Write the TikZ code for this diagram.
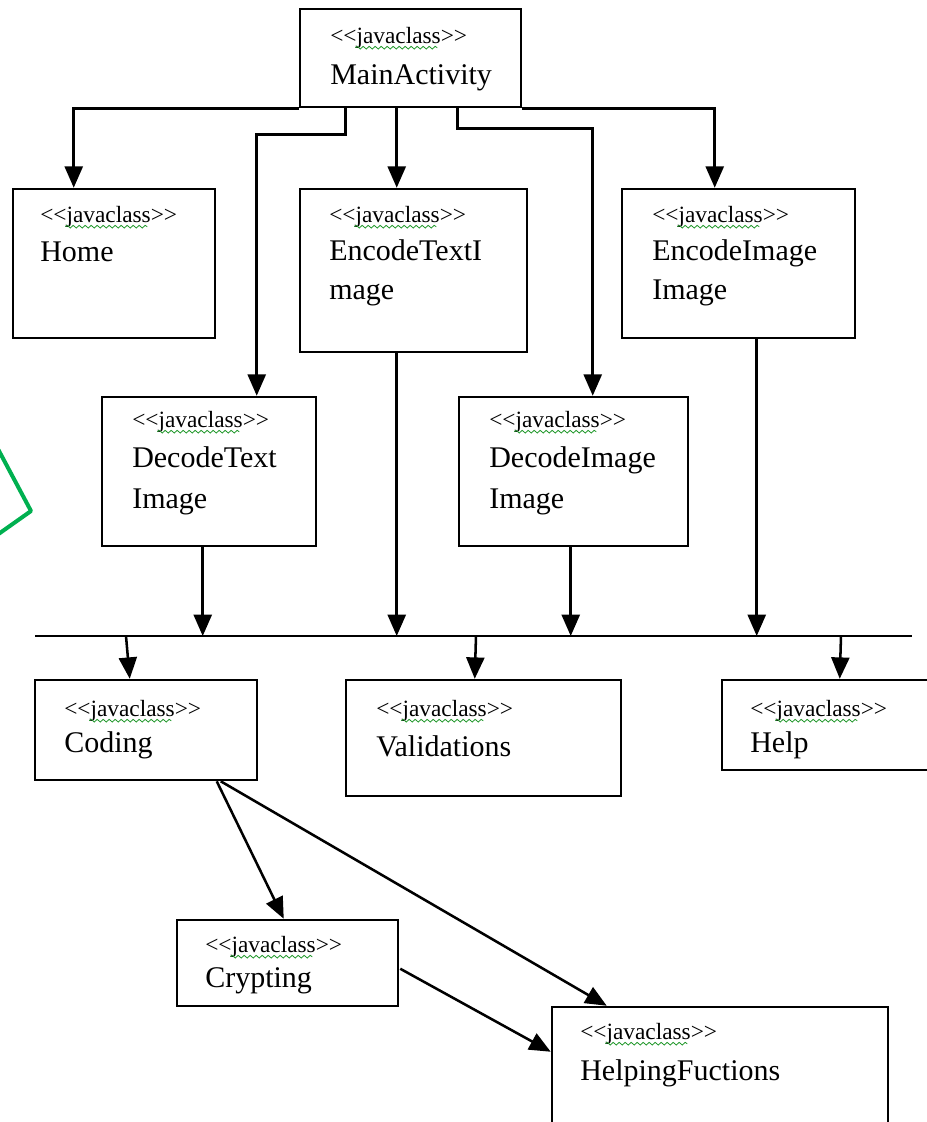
\documentclass[tikz,border=0pt]{standalone}
\usepackage{fontspec}
\setmainfont{Liberation Serif}
\usetikzlibrary{arrows.meta,fit,calc,decorations.pathmorphing}
\definecolor{spellgreen}{RGB}{30,150,40}
\definecolor{markgreen}{RGB}{0,176,80}
\newcommand\stereotxt{\hbox{<}\hbox{<}javaclass\hbox{>}\hbox{>}}
\begin{document}
\begin{tikzpicture}[x=0.75pt,y=-0.75pt,
  box/.style={draw, line width=1.9pt, inner sep=0pt},
  arr/.style={draw, line width=1.9pt, -{Triangle[length=16pt,width=13.5pt]}},
  busline/.style={draw, line width=1.9pt},
  stereo/.style={anchor=base west, inner sep=0pt, font=\fontsize{17.5}{20}\selectfont},
  cname/.style={anchor=base west, inner sep=0pt, font=\fontsize{22.5}{28}\selectfont},
  spell/.style={draw=spellgreen, line width=0.6pt, decorate, decoration={snake, amplitude=1pt, segment length=4.5pt}},
  greenmark/.style={draw=markgreen, line width=3pt, line join=round}
]
\useasboundingbox (0,0) rectangle (927,1122);
\clip (0,0) rectangle (927,1122);

% boxes
\node[box, fit={(300,9) (521,107)}] (main) {};
\node[box, fit={(13,189) (215,338)}] (home) {};
\node[box, fit={(300,189) (527,352)}] (enctext) {};
\node[box, fit={(622,189) (855,338)}] (encimg) {};
\node[box, fit={(102,397) (316,546)}] (dectext) {};
\node[box, fit={(459,397) (688,546)}] (decimg) {};
\node[box, fit={(35,680) (257,780)}] (coding) {};
\node[box, fit={(346,680) (621,796)}] (valid) {};
\node[box, fit={(722,680) (945,770)}] (help) {};
\node[box, fit={(177,920) (398,1006)}] (crypt) {};
\node[box, fit={(552,1007) (888,1135)}] (helpfn) {};

% texts
\newcommand\squig[1]{\draw[spell] ($(#1.base west)+(19pt,-3.5pt)$) -- ++(82,0);}
\node[stereo] (main-s) at (330,43) {\stereotxt};
\node[cname] (main-n) at (330,84) {MainActivity};
\node[stereo] (home-s) at (40,222) {\stereotxt};
\node[cname] (home-n) at (40,261) {Home};
\node[stereo] (enctext-s) at (329,222) {\stereotxt};
\node[cname] (enctext-n1) at (329,260) {EncodeTextI};
\node[cname] (enctext-n2) at (329,299) {mage};
\node[stereo] (encimg-s) at (652,222) {\stereotxt};
\node[cname] (encimg-n1) at (652,260) {EncodeImage};
\node[cname] (encimg-n2) at (652,299) {Image};
\node[stereo] (dectext-s) at (132,427) {\stereotxt};
\node[cname] (dectext-n1) at (132,467) {DecodeText};
\node[cname] (dectext-n2) at (132,508) {Image};
\node[stereo] (decimg-s) at (489,427) {\stereotxt};
\node[cname] (decimg-n1) at (489,467) {DecodeImage};
\node[cname] (decimg-n2) at (489,508) {Image};
\node[stereo] (coding-s) at (64,716) {\stereotxt};
\node[cname] (coding-n) at (64,752) {Coding};
\node[stereo] (valid-s) at (376,716) {\stereotxt};
\node[cname] (valid-n) at (376,756) {Validations};
\node[stereo] (help-s) at (750,716) {\stereotxt};
\node[cname] (help-n) at (750,752) {Help};
\node[stereo] (crypt-s) at (205,952) {\stereotxt};
\node[cname] (crypt-n) at (205,987) {Crypting};
\node[stereo] (helpfn-s) at (580,1039) {\stereotxt};
\node[cname] (helpfn-n) at (580,1080) {HelpingFuctions};

\foreach \n in {main,home,enctext,encimg,dectext,decimg,coding,valid,help,crypt,helpfn}{\squig{\n-s}}

% connectors from MainActivity
\draw[arr] (main.south west) -| ($(home.north west)+(62,0)$);
\draw[arr] ($(main.south west)+(47,0)$) -- ++(0,26) -| ($(dectext.north west)+(156,0)$);
\draw[arr] ($(main.south west)+(98,0)$) coordinate (m3) -- (m3 |- enctext.north);
\draw[arr] ($(main.south west)+(159,0)$) -- ++(0,20) -| ($(decimg.north west)+(135,0)$);
\draw[arr] (main.south east) -| ($(encimg.north west)+(94,0)$);

% bus
\coordinate (busL) at (35,636);
\coordinate (busR) at (912,636);
\draw[busline] (busL) -- (busR);
\draw[arr] ($(dectext.south west)+(102,0)$) coordinate (d1) -- (d1 |- busL);
\draw[arr] ($(enctext.south west)+(98,0)$) coordinate (d2) -- (d2 |- busL);
\draw[arr] ($(decimg.south west)+(113,0)$) coordinate (d3) -- (d3 |- busL);
\draw[arr] ($(encimg.south west)+(136,0)$) coordinate (d4) -- (d4 |- busL);

\draw[arr] ($(busL)+(91,0)$) -- ($(coding.north west)+(96,0)$);
\draw[arr] ($(busL)+(441,0)$) -- ($(valid.north west)+(130,0)$);
\draw[arr] ($(busL)+(806,0)$) -- ($(help.north west)+(119,0)$);

% lower connectors
\draw[arr] ($(coding.south west)+(183,0)$) -- ($(crypt.north west)+(108,0)$);
\draw[arr] ($(coding.south west)+(187,0)$) -- ($(helpfn.north west)+(56,0)$);
\draw[arr] ($(crypt.north east)+(1,50)$) -- ($(helpfn.north west)+(0,46)$);

% green mark at the left edge
\draw[greenmark] (-10,434) -- (31,511) -- (-10,540);
\end{tikzpicture}
\end{document}
